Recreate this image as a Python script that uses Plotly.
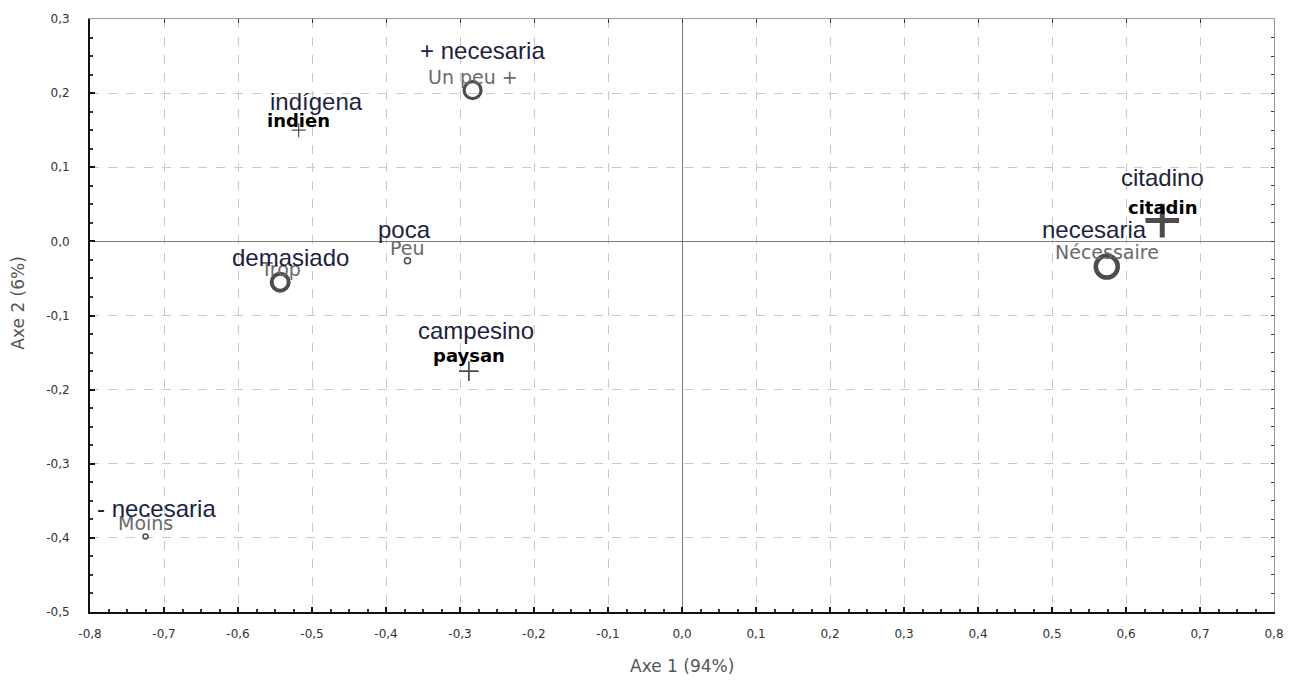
import plotly.graph_objects as go

# ---- data ----
col_fr = ["Un peu +", "Peu", "Trop", "Moins", "Nécessaire"]
col_es = ["+ necesaria", "poca", "demasiado", "- necesaria", "necesaria"]
col_x = [-0.283, -0.371, -0.543, -0.725, 0.574]
col_y = [0.204, -0.026, -0.055, -0.398, -0.034]

row_fr = ["indien", "paysan", "citadin"]
row_es = ["indígena", "campesino", "citadino"]
row_x = [-0.518, -0.288, 0.649]
row_y = [0.150, -0.175, 0.028]

x_ticks = [-0.8, -0.7, -0.6, -0.5, -0.4, -0.3, -0.2, -0.1, 0.0, 0.1, 0.2, 0.3, 0.4, 0.5, 0.6, 0.7, 0.8]
y_ticks = [-0.5, -0.4, -0.3, -0.2, -0.1, 0.0, 0.1, 0.2, 0.3]
x_tick_text = ["-0,8", "-0,7", "-0,6", "-0,5", "-0,4", "-0,3", "-0,2", "-0,1", "0,0",
               "0,1", "0,2", "0,3", "0,4", "0,5", "0,6", "0,7", "0,8"]
y_tick_text = ["-0,5", "-0,4", "-0,3", "-0,2", "-0,1", "0,0", "0,1", "0,2", "0,3"]

# ---- styles ----
col_size = [17, 6, 17, 5, 22]
col_lw = [3.2, 1.5, 4, 1.5, 4.5]
row_size = [10, 14, 24]
row_lw = [1.2, 1.8, 5]

col_fr_shift = [(0, 13), (0, 13), (0, 13), (0, 13), (0, 15)]
col_es_shift = [(10, 40), (-3, 31), (10, 25), (11, 28), (-12, 37)]
row_fr_shift = [(0, 10), (0, 16), (0, 13)]
row_es_shift = [(18, 29), (7, 41), (0, 43)]

ES_FONT = dict(family="Liberation Sans, Arial", size=24, color="#1d2340")
FR_FONT = dict(family="DejaVu Sans", size=19, color="#6a6a6a")
FR_ROW_FONT = dict(family="DejaVu Sans", size=18, color="#000000", weight="bold")

fig = go.Figure()

fig.add_trace(go.Scatter(
    x=col_x, y=col_y, mode="markers",
    marker=dict(symbol="circle-open", size=col_size, color="#000000",
                line=dict(width=col_lw, color="#000000")),
    showlegend=False, hoverinfo="skip"))

fig.add_trace(go.Scatter(
    x=row_x, y=row_y, mode="markers",
    marker=dict(symbol="cross-thin-open", size=row_size, color="#000000",
                line=dict(width=row_lw, color="#000000")),
    showlegend=False, hoverinfo="skip"))

# invisible trace for mirrored frame axes
fig.add_trace(go.Scatter(x=[None], y=[None], xaxis="x2", yaxis="y2",
                         showlegend=False, hoverinfo="skip"))

ann = []
for i in range(len(col_fr)):
    ann.append(dict(x=col_x[i], y=col_y[i], text=col_fr[i], showarrow=False,
                    xshift=col_fr_shift[i][0], yshift=col_fr_shift[i][1], font=FR_FONT))
    ann.append(dict(x=col_x[i], y=col_y[i], text=col_es[i], showarrow=False,
                    xshift=col_es_shift[i][0], yshift=col_es_shift[i][1], font=ES_FONT))
for i in range(len(row_fr)):
    ann.append(dict(x=row_x[i], y=row_y[i], text=row_fr[i], showarrow=False,
                    xshift=row_fr_shift[i][0], yshift=row_fr_shift[i][1], font=FR_ROW_FONT))
    ann.append(dict(x=row_x[i], y=row_y[i], text=row_es[i], showarrow=False,
                    xshift=row_es_shift[i][0], yshift=row_es_shift[i][1], font=ES_FONT))

# axis titles
ann.append(dict(xref="paper", yref="paper", x=0.5, y=0, yshift=-66, showarrow=False,
                text="Axe 1 (94%)", font=dict(family="DejaVu Sans", size=17, color="#555555")))
ann.append(dict(xref="paper", yref="paper", x=0, y=0.52, xshift=-84, showarrow=False,
                textangle=-90, text="Axe 2 (6%)",
                font=dict(family="DejaVu Sans", size=17, color="#555555")))

common = dict(showgrid=True, gridcolor="#c8c8c8", gridwidth=1, griddash="dash",
              zeroline=True, zerolinecolor="#7a7a7a", zerolinewidth=1.2,
              ticks="inside", ticklen=5, tickcolor="#111111", tickwidth=1.5,
              showline=True, linecolor="#111111", linewidth=2,
              tickfont=dict(family="DejaVu Sans", size=12, color="#333333"),
              minor=dict(ticks="inside", ticklen=3, tickcolor="#333333",
                         showgrid=False, dtick=0.025))

fig.update_layout(
    width=1296, height=687,
    margin=dict(l=90, r=21, t=12, b=75),
    paper_bgcolor="white", plot_bgcolor="white",
    annotations=ann,
    xaxis=dict(range=[-0.8, 0.8], tickvals=x_ticks, ticktext=x_tick_text,
               ticklabelstandoff=10, **common),
    yaxis=dict(range=[-0.5, 0.3], tickvals=y_ticks, ticktext=y_tick_text,
               ticklabelstandoff=16, **common),
    xaxis2=dict(overlaying="x", side="top", matches="x", range=[-0.8, 0.8],
                showgrid=False, zeroline=False, showticklabels=False,
                ticks="inside", ticklen=4, tickcolor="#333333",
                tickvals=x_ticks, showline=True, linecolor="#999999", linewidth=1),
    yaxis2=dict(overlaying="y", side="right", matches="y", range=[-0.5, 0.3],
                showgrid=False, zeroline=False, showticklabels=False,
                ticks="inside", ticklen=3, tickcolor="#333333",
                dtick=0.025, tick0=0, showline=True, linecolor="#999999", linewidth=1),
)

fig.write_html("out.html", config={"displayModeBar": False},
               post_script="document.body.style.margin='0px';document.body.style.padding='0px';")
